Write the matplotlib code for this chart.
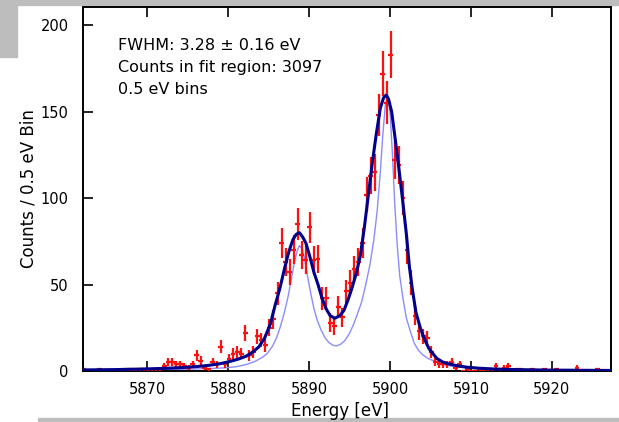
import numpy as np
import matplotlib
matplotlib.use("Agg")
import matplotlib.pyplot as plt
from matplotlib.patches import Rectangle

# ========== DATA ==========
BIN_START = 5862.1       # centre of first 0.5 eV bin
BIN_WIDTH = 0.5

counts = [
    1, 0, 0, 0, 1, 0, 0, 0, 0, 0,          # 5862.1 - 5866.6
    0, 1, 1, 0, 1, 1, 0, 1, 1, 1,          # 5867.1 - 5871.6
    3, 5, 5, 4, 4, 3, 2, 4, 9, 6,          # 5872.1 - 5876.6
    2, 1, 5, 4, 14, 4, 7, 10, 11, 10,      # 5877.1 - 5881.6
    22, 9, 11, 20, 18, 15, 25, 30, 45, 74,  # 5882.1 - 5886.6
    63, 57, 70, 85, 67, 64, 83, 64, 65, 42,  # 5887.1 - 5891.6
    42, 28, 26, 37, 31, 46, 51, 59, 63, 74,  # 5892.1 - 5896.6
    102, 113, 115, 148, 172, 155, 183, 122, 119, 100,  # 5897.1 - 5901.6
    70, 51, 32, 23, 20, 19, 11, 5, 4, 4,    # 5902.1 - 5906.6
    4, 5, 2, 4, 0, 1, 0, 0, 1, 0,          # 5907.1 - 5911.6
    1, 1, 3, 1, 2, 3, 0, 1, 1, 0,          # 5912.1 - 5916.6
    0, 1, 0, 0, 1, 0, 0, 1, 0, 0,          # 5917.1 - 5921.6
    0, 0, 2, 0, 0, 0, 0, 1, 0, 0,          # 5922.1 - 5926.6
    0,                                     # 5927.1
]

# fitted line shape (dark blue)
fit_e = [5862.1, 5866, 5870, 5872, 5874, 5876, 5877.5, 5879, 5880.2, 5881.2,
         5882.2, 5883, 5883.8, 5884.5, 5885.2, 5885.8, 5886.4, 5887.0, 5887.5,
         5888.0, 5888.4, 5888.8, 5889.2, 5889.6, 5890.1, 5890.6, 5891.1,
         5891.6, 5892.1, 5892.6, 5893.2, 5893.8, 5894.3, 5894.8, 5895.3,
         5895.8, 5896.3, 5896.8, 5897.3, 5897.8, 5898.3, 5898.8, 5899.2,
         5899.5, 5899.8, 5900.2, 5900.7, 5901.2, 5901.6, 5902.0, 5902.4,
         5902.8, 5903.2, 5903.8, 5904.3, 5904.8, 5905.3, 5905.8, 5906.5,
         5907.2, 5908.3, 5909.5, 5911, 5913, 5915.5, 5920, 5927.3]
fit_c = [0.6, 0.8, 1.2, 1.5, 1.9, 2.5, 3.2, 4.2, 5.5, 6.8,
         8.5, 10.8, 14, 19, 27, 38, 48, 60, 69,
         76, 79, 80, 77.5, 74, 66, 57, 50,
         42, 36, 32, 30.5, 32, 35, 41, 48,
         56, 66, 82, 101, 120, 137, 152, 158,
         159.5, 157.5, 150, 132, 113, 97, 80, 60,
         46, 34, 24, 18, 13, 10, 7.2, 5.2,
         4.2, 3.0, 2.2, 1.6, 1.1, 0.8, 0.5, 0.3]

# natural line shape (light blue)
nat_e = [5862.1, 5870, 5874, 5877, 5879.6, 5881, 5882.3, 5883.3, 5884.2,
         5884.8, 5885.5, 5886.0, 5886.4, 5886.9, 5887.4, 5887.8, 5888.2,
         5888.5, 5888.8, 5889.1, 5889.4, 5889.8, 5890.2, 5890.6, 5891.0,
         5891.5, 5892.0, 5892.5, 5893.0, 5893.4, 5893.9, 5894.4, 5895.0,
         5895.5, 5896.0, 5896.5, 5897.0, 5897.5, 5898.0, 5898.4, 5898.8,
         5899.1, 5899.4, 5899.7, 5900.0, 5900.3, 5900.6, 5900.9, 5901.2,
         5901.6, 5902.0, 5902.5, 5903.0, 5903.5, 5904.0, 5904.6, 5905.3,
         5906.0, 5906.8, 5908, 5910, 5913, 5918, 5927.3]
nat_c = [0.3, 0.6, 0.9, 1.3, 1.8, 2.5, 3.8, 5.5, 7.8,
         10, 14.5, 19.5, 25, 33, 43, 53, 63,
         69, 72.5, 71, 66, 55, 45, 36, 29.5,
         23.5, 19, 16.2, 14.8, 14.5, 15.5, 17.5, 21.8,
         27, 33.4, 40, 50, 61, 76, 92, 115,
         136, 153, 160, 150, 125, 95, 72, 55,
         42, 31, 23, 16, 12, 9.5, 7.5, 6,
         4.6, 3.5, 2.4, 1.6, 1.0, 0.6, 0.3]

info_lines = ["FWHM: 3.28 \u00b1 0.16 eV",
              "Counts in fit region: 3097",
              "0.5 eV bins"]

x_ticks = [5870, 5880, 5890, 5900, 5910, 5920]
y_ticks = [0, 50, 100, 150, 200]

# ========== PLOT ==========
plt.rcParams['font.family'] = 'DejaVu Sans'

counts = np.array(counts, dtype=float)
energy = BIN_START + BIN_WIDTH * np.arange(len(counts))
yerr = np.sqrt(counts)

fig = plt.figure(figsize=(6.19, 4.22), dpi=100)
ax = fig.add_axes([0.1333, 0.1209, 0.8537, 0.8625])

ax.plot(nat_e, nat_c, color='#8c8cff', lw=1.0, zorder=2)
ax.errorbar(energy, counts, yerr=yerr, xerr=BIN_WIDTH / 2 + 0.05, fmt='none',
            ecolor='#ff1010', elinewidth=1.6, capsize=0, zorder=3)
ax.plot(fit_e, fit_c, color='#00008b', lw=2.2, zorder=4)

ax.set_xlim(5862.0, 5927.3)
ax.set_ylim(0, 210.5)
ax.set_xticks(x_ticks)
ax.set_yticks(y_ticks)
ax.tick_params(axis='both', direction='in', length=7, width=1.2,
               labelsize=10.5, colors='black')
ax.tick_params(axis='x', top=True, pad=8)
ax.tick_params(axis='y', pad=10)
for s in ax.spines.values():
    s.set_linewidth(1.4)

ax.set_xlabel("Energy [eV]", fontsize=12, labelpad=4)
ax.xaxis.set_label_coords(0.487, -0.085)
ax.set_ylabel("Counts / 0.5 eV Bin", fontsize=12, labelpad=2)

for i, line in enumerate(info_lines):
    ax.text(0.068, 0.893 - i * 0.0604, line, transform=ax.transAxes,
            fontsize=11.5, va='center', ha='left')

# grey frame bits from the original screenshot
grey = '#bdbdbd'
fig.patches.append(Rectangle((0, 1 - 5 / 422), 1, 5 / 422, transform=fig.transFigure,
                             color=grey, zorder=-1))
fig.patches.append(Rectangle((0, 1 - 57 / 422), 17 / 619, 57 / 422,
                             transform=fig.transFigure, color=grey, zorder=-1))
fig.patches.append(Rectangle((38 / 619, 1 / 422), 1, 3 / 422,
                             transform=fig.transFigure, color=grey, zorder=-1))

fig.savefig("out.png", dpi=100)
